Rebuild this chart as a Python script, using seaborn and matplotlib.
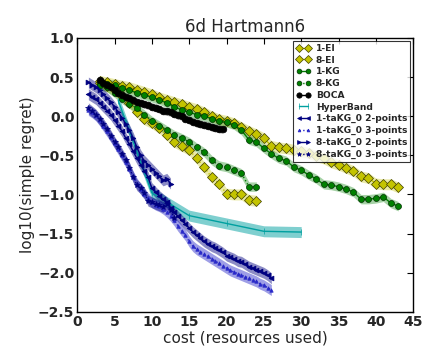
import numpy as np
import pandas as pd
import matplotlib
matplotlib.use("Agg")
import matplotlib.pyplot as plt
import seaborn as sns

# valori (costo, log10 regret)
x_ei1 = np.arange(3, 44)
y_ei1 = [0.45, 0.43, 0.41, 0.39, 0.37, 0.34, 0.31, 0.28, 0.24, 0.21,
         0.18, 0.15, 0.12, 0.09, 0.05, 0.00, -0.04, -0.06, -0.09, -0.14,
         -0.19, -0.23, -0.28, -0.38, -0.40, -0.41, -0.43, -0.45, -0.47, -0.51,
         -0.54, -0.59, -0.62, -0.66, -0.70, -0.77, -0.79, -0.86, -0.87, -0.87, -0.91]

x_ei8 = np.arange(3, 25)
y_ei8 = [0.42, 0.38, 0.33, 0.26, 0.17, 0.05, -0.04, -0.09, -0.15, -0.24, -0.33,
         -0.38, -0.43, -0.54, -0.65, -0.78, -0.86, -0.99, -1.00, -1.00, -1.07, -1.08]

x_kg1 = np.arange(3, 44)
y_kg1 = [0.42, 0.41, 0.40, 0.36, 0.33, 0.30, 0.27, 0.24, 0.21, 0.17,
         0.12, 0.08, 0.05, 0.02, 0.00, -0.03, -0.06, -0.08, -0.11, -0.18,
         -0.30, -0.33, -0.41, -0.48, -0.54, -0.57, -0.65, -0.69, -0.75, -0.80,
         -0.87, -0.88, -0.90, -0.93, -0.97, -1.06, -1.06, -1.05, -1.03, -1.11, -1.15]

x_kg8 = np.arange(3, 25)
y_kg8 = [0.40, 0.37, 0.30, 0.22, 0.16, 0.10, 0.02, -0.06, -0.12, -0.18, -0.24,
         -0.28, -0.33, -0.40, -0.46, -0.56, -0.63, -0.65, -0.69, -0.73, -0.90, -0.90]

x_boca = np.arange(3, 19.6, 0.5)
y_boca = [0.46, 0.42, 0.40, 0.37, 0.33, 0.30, 0.27, 0.25, 0.23, 0.21,
          0.18, 0.17, 0.15, 0.14, 0.12, 0.11, 0.09, 0.07, 0.06, 0.05,
          0.03, 0.01, 0.00, -0.03, -0.05, -0.07, -0.09, -0.10, -0.11, -0.12,
          -0.14, -0.15, -0.16, -0.17]

x_hb = [5.5, 10, 15, 20, 25, 30]
y_hb = [0.20, -0.98, -1.27, -1.37, -1.47, -1.48]

x_ta8_2 = np.arange(1.5, 12.6, 0.5)
y_ta8_2 = [0.43, 0.40, 0.37, 0.33, 0.28, 0.23, 0.18, 0.12, 0.05, -0.02,
           -0.10, -0.18, -0.28, -0.40, -0.50, -0.57, -0.62, -0.67, -0.72, -0.77,
           -0.82, -0.80, -0.86]

x_ta1_2 = np.arange(1.5, 26.1, 0.5)
y_ta1_2 = [0.28, 0.25, 0.22, 0.17, 0.12, 0.07, 0.02, -0.05, -0.12, -0.19,
           -0.28, -0.36, -0.45, -0.54, -0.62, -0.70, -0.78, -0.92, -0.97, -1.02,
           -1.06, -1.10, -1.17, -1.23, -1.28, -1.33, -1.38, -1.43, -1.48, -1.52,
           -1.56, -1.60, -1.63, -1.66, -1.68, -1.71, -1.74, -1.78, -1.80, -1.82,
           -1.85, -1.86, -1.89, -1.92, -1.94, -1.96, -1.98, -2.00, -2.03, -2.07]

x_ta1_3 = np.arange(1.5, 26.1, 0.5)
y_ta1_3 = [0.08, 0.05, 0.01, -0.05, -0.12, -0.19, -0.26, -0.34, -0.42, -0.50,
           -0.58, -0.67, -0.77, -0.86, -0.93, -0.99, -1.05, -1.10, -1.13, -1.15,
           -1.18, -1.22, -1.27, -1.33, -1.40, -1.46, -1.52, -1.60, -1.66, -1.70,
           -1.73, -1.76, -1.79, -1.82, -1.85, -1.88, -1.91, -1.94, -1.97, -1.99,
           -2.01, -2.03, -2.05, -2.07, -2.09, -2.11, -2.14, -2.16, -2.19, -2.22]

x_ta8_3 = np.arange(1.5, 13.1, 0.5)
y_ta8_3 = [0.10, 0.06, 0.02, -0.04, -0.10, -0.17, -0.25, -0.33, -0.40, -0.48,
           -0.56, -0.66, -0.78, -0.88, -0.92, -0.98, -1.08, -1.10, -1.12, -1.14,
           -1.16, -1.12, -1.20, -1.30]

# semi-ampiezza delle bande
err = {'1-EI': 0.07, '8-EI': 0.07, '1-KG': 0.06, '8-KG': 0.06, 'BOCA': 0.05,
       'HyperBand': 0.07, '1-taKG_0 2-points': 0.07, '1-taKG_0 3-points': 0.07,
       '8-taKG_0 2-points': 0.07, '8-taKG_0 3-points': 0.07}

serie = [
    ('1-EI', x_ei1, y_ei1, '#c4c400', 'D', '-', 5, '#404000', 0.35),
    ('8-EI', x_ei8, y_ei8, '#c4c400', 'D', ':', 5, '#404000', 0.35),
    ('1-KG', x_kg1, y_kg1, '#008000', 'o', '-', 4.3, '#003000', 0.35),
    ('8-KG', x_kg8, y_kg8, '#008000', 'o', ':', 4.3, '#003000', 0.35),
    ('BOCA', x_boca, y_boca, 'k', 'o', '-', 4.8, 'k', 0.35),
    ('HyperBand', x_hb, y_hb, '#00a0a0', '|', '-', 5, '#00a0a0', 0.5),
    ('1-taKG_0 2-points', x_ta1_2, y_ta1_2, '#000080', '<', '-', 3.5, '#000080', 0.45),
    ('1-taKG_0 3-points', x_ta1_3, y_ta1_3, '#2828c8', '^', ':', 2.5, '#2828c8', 0.45),
    ('8-taKG_0 2-points', x_ta8_2, y_ta8_2, '#000080', '>', '-', 3.5, '#000080', 0.45),
    ('8-taKG_0 3-points', x_ta8_3, y_ta8_3, '#000080', '*', ':', 4, '#000080', 0.45),
]

sns.set_style('white')
plt.rcParams['xtick.direction'] = 'in'
plt.rcParams['ytick.direction'] = 'in'

fig = plt.figure(figsize=(4.41, 3.64), dpi=100)
ax = fig.add_axes([0.175, 0.143, 0.762, 0.753])

for nome, x, y, c, m, ls, ms, mec, a in serie:
    y = np.array(y)
    ax.fill_between(x, y - err[nome], y + err[nome], color=c, alpha=a, lw=0)
    sns.lineplot(x=x, y=y, ax=ax, color=c, marker=m, linestyle=ls, lw=1,
                 markersize=ms, markeredgecolor=mec, markeredgewidth=0.5,
                 label=nome, sort=False, errorbar=None)

ax.set_xlim(0, 45)
ax.set_ylim(-2.5, 1.0)
ax.set_xticks(np.arange(0, 46, 5))
ax.set_yticks(np.arange(-2.5, 1.01, 0.5))
ax.tick_params(which='both', direction='in', top=True, right=True, length=4,
               width=0.8, color='k', labelsize=10, pad=2)
for lab in ax.get_xticklabels() + ax.get_yticklabels():
    lab.set_fontweight('bold')
for s in ax.spines.values():
    s.set_color('k')
    s.set_linewidth(1)

ax.set_title('6d Hartmann6', fontsize=12, pad=4)
ax.set_xlabel('cost (resources used)', fontsize=11, labelpad=1)
ax.set_ylabel('log10(simple regret)', fontsize=11, labelpad=2)

leg = ax.legend(loc='upper right', prop={'weight': 'bold', 'size': 6.6},
                numpoints=2, handlelength=1.5, labelspacing=0.3,
                borderaxespad=0.3, fancybox=False, frameon=True, markerscale=0.8,
                handletextpad=0.6, borderpad=0.35)
leg.get_frame().set_edgecolor('k')
leg.get_frame().set_linewidth(0.8)

fig.savefig('out.png', dpi=100)
